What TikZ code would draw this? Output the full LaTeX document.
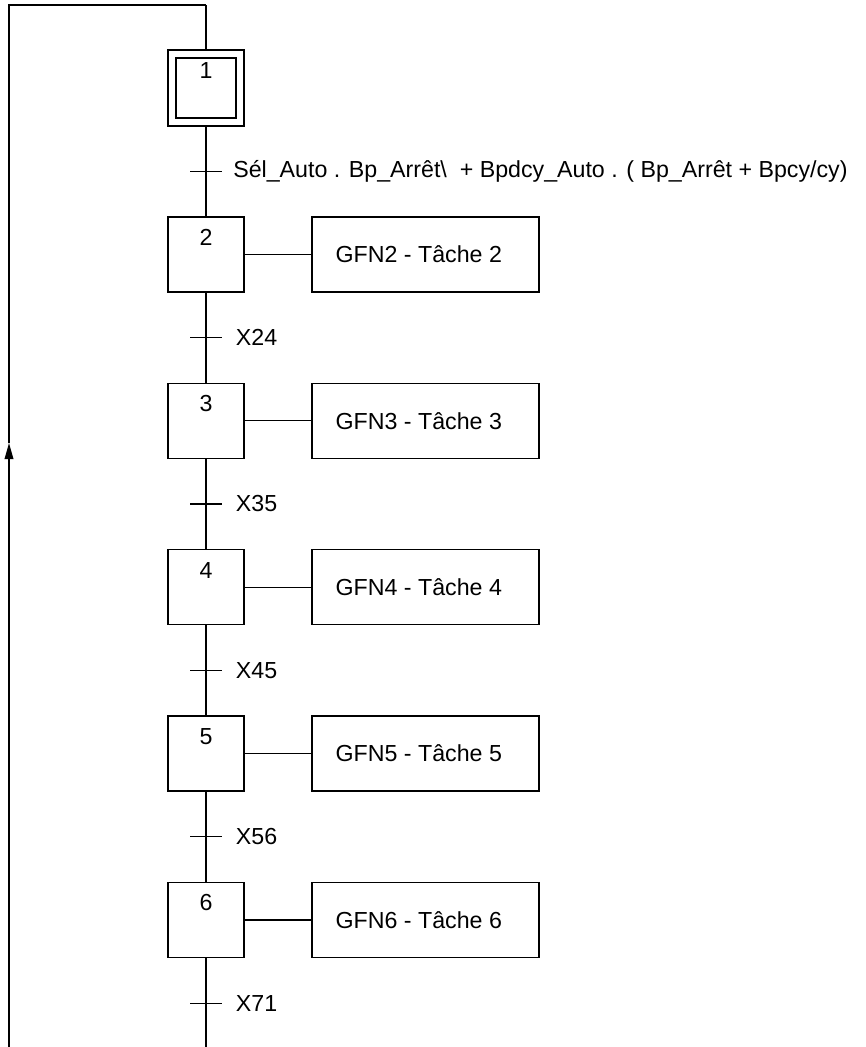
\documentclass[tikz,border=0pt]{standalone}
\usepackage{fontspec}
\setmainfont{Liberation Sans}
\usetikzlibrary{positioning,arrows.meta}

\begin{document}
\begin{tikzpicture}[x=0.75pt,y=-0.75pt,line width=0.95pt,font=\fontsize{17.4}{21}\selectfont]
        \tikzstyle{etape}=[draw,minimum width=57pt,minimum height=56.25pt,inner sep=0pt]
        \tikzstyle{action}=[draw,minimum width=170.25pt,minimum height=56.25pt]
        \tikzstyle{cond}=[inner sep=0pt]

        \useasboundingbox (0,0) rectangle (866,1047);

        % Initial step
        \node[etape, minimum height=57pt] (E1) at (206,88) {};
        \node[etape, minimum width=45pt, minimum height=45pt] (E1i) at (E1) {};
        \node (N1) at (206,71) {1};

        % Steps and actions
        \foreach \i in {2,...,6}{
            \pgfmathsetmacro\y{88+(\i-1)*166.4}
            \node[etape] (E\i) at (206,\y) {};
            \node (N\i) at (206,\y-17) {\i};
            \node[action] (A\i) at (425.5,\y) {\hspace*{-10pt}GFN\i{} - Tâche \i};
            \draw (E\i) -- (A\i);
        }

        % Transitions
        \foreach \i in {1,...,6}{
            \coordinate (T\i) at (206,{171.2+(\i-1)*166.4});
            \draw ([xshift=-12pt]T\i) -- ([xshift=12pt]T\i);
        }
        \node[cond, right=20pt of T1] (C1) {Sél\_Auto . Bp\_Arrêt\textbackslash\ \ + Bpdcy\_Auto . ( Bp\_Arrêt + Bpcy/cy)};
        \foreach \i/\c in {2/X24,3/X35,4/X45,5/X56,6/X71}
            \node[cond, right=22pt of T\i] (C\i) {\c};

        % Links between steps
        \coordinate (top) at (206,5);
        \coordinate (bot) at (206,1047);
        \draw (top) -- (E1);
        \foreach \i [evaluate=\i as \j using int(\i+1)] in {1,...,5}
            \draw (E\i) -- (E\j);
        \draw (E6) -- (bot);

        % Return loop
        \coordinate (ltop) at (9,5);
        \coordinate (lbot) at (9,1047);
        \coordinate (larrow) at (9,443);
        \draw[-{Triangle[length=12pt,width=6.5pt]}] (lbot) -- (larrow);
        \draw (larrow) -- (ltop) -- (top);

    \end{tikzpicture}
\end{document}
